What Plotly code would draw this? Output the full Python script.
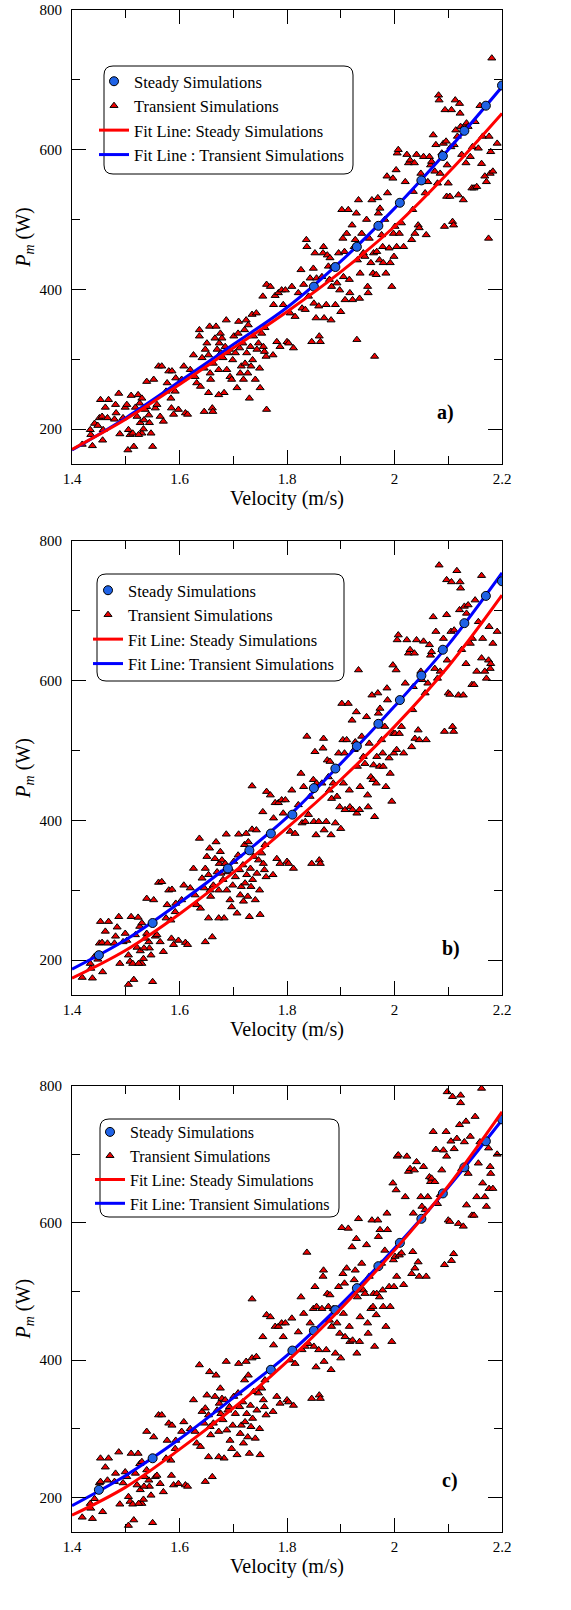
import plotly.graph_objects as go

FONT = "Liberation Serif"

# ---------------- data ----------------
fit_x = [1.4, 1.5, 1.6, 1.7, 1.8, 1.9, 2.0, 2.1, 2.2]

# panel a)
a_fit_steady = [171, 214, 264, 316, 368, 425, 490, 567, 652]
a_fit_trans = [170, 216, 268, 321, 374, 440, 516, 600, 690]
a_steady_x = [1.85, 1.89, 1.93, 1.97, 2.01, 2.05, 2.09, 2.13, 2.17, 2.20]
a_steady_y = [404, 432, 461, 491, 524, 556, 591, 627, 663, 692]
a_trans_x = [1.419,1.438,1.434,1.435,1.442,1.448,1.453,1.468,1.457,1.451,1.456,1.462,1.466,1.458,1.487,1.481,1.482,1.479,1.489,1.499,1.495,1.504,1.510,1.502,1.505,1.508,1.513,1.515,1.518,1.521,1.523,1.526,1.530,1.527,1.530,1.533,1.524,1.539,1.539,1.543,1.544,1.547,1.550,1.552,1.536,1.534,1.555,1.558,1.561,1.567,1.564,1.570,1.577,1.580,1.586,1.585,1.589,1.593,1.598,1.604,1.608,1.611,1.615,1.584,1.592,1.575,
             1.620,1.626,1.637,1.637,1.629,1.632,1.639,1.642,1.646,1.648,1.651,1.654,1.656,1.657,1.658,1.661,1.662,1.663,1.666,1.668,1.670,1.673,1.674,1.676,1.677,1.679,1.681,1.683,1.685,1.687,1.688,1.690,1.693,1.694,1.697,1.699,1.701,1.654,1.673,1.646,
             1.704,1.707,1.709,1.710,1.712,1.713,1.715,1.718,1.719,1.721,1.722,1.724,1.725,1.727,1.728,1.730,1.732,1.733,1.735,1.736,1.738,1.741,1.743,1.744,1.747,1.749,1.750,1.753,1.755,1.756,1.758,1.759,1.761,1.762,1.762,1.769,1.774,1.775,1.778,1.781,1.784,1.787,1.790,1.793,1.797,1.800,
             1.803,1.806,1.809,1.812,1.815,1.821,1.826,1.828,1.831,1.834,1.836,1.837,1.840,1.843,1.846,1.849,1.850,1.852,1.854,1.855,1.859,1.860,1.862,1.865,1.867,1.868,1.869,1.873,1.875,1.877,1.879,1.880,1.882,1.883,1.886,1.890,1.893,1.896,1.898,
             1.900,1.902,1.904,1.905,1.907,1.908,1.911,1.914,1.916,1.917,1.921,1.922,1.925,1.927,1.929,1.930,1.931,1.933,1.935,1.936,1.939,1.942,1.945,1.948,1.950,1.951,1.953,1.956,1.958,1.960,1.961,1.963,1.966,1.967,1.969,1.970,1.972,1.973,1.976,1.978,1.979,1.982,1.984,1.986,1.987,1.990,1.992,1.995,1.997,1.998,1.999,
             2.001,2.003,2.004,2.005,2.007,2.009,2.013,2.017,2.020,2.023,2.026,2.029,2.032,2.034,2.035,2.037,2.038,2.041,2.044,2.046,2.049,2.051,2.054,2.057,2.059,2.062,2.065,2.067,2.069,2.072,2.075,2.077,2.080,2.082,2.083,2.085,2.088,2.091,2.093,2.094,2.096,2.097,2.098,2.100,
             2.103,2.105,2.106,2.108,2.110,2.111,2.113,2.114,2.117,2.119,2.121,2.122,2.123,2.125,2.128,2.130,2.133,2.134,2.137,2.141,2.144,2.145,2.148,2.150,2.153,2.156,2.159,2.162,2.164,2.168,2.171,2.175,2.176,2.178,2.179,2.181,2.183,2.191]
a_trans_y = [178,176,199,192,208,205,242,242,184,216,218,231,216,199,251,235,223,214,193,231,216,170,248,235,199,192,194,175,231,218,249,237,244,209,194,200,192,268,232,220,209,194,175,271,228,213,230,235,290,290,218,211,266,283,283,230,221,273,228,271,290,223,221,244,254,254,
             285,306,342,333,275,266,261,302,225,314,323,306,347,280,271,230,225,294,330,347,314,285,323,337,309,330,302,252,318,356,285,309,314,275,271,299,333,252,249,287,
             309,259,337,354,316,280,290,323,271,342,294,356,309,280,349,244,318,290,364,299,333,271,366,314,323,287,259,337,390,318,311,345,304,228,407,404,306,378,391,325,395,318,399,378,399,325,
             323,366,404,316,361,395,428,373,407,371,471,461,390,416,325,430,380,452,359,416,376,333,325,418,452,461,359,378,449,433,414,445,356,404,433,378,409,452,399,
             368,514,473,418,454,385,480,514,414,395,492,385,461,471,509,328,442,528,387,423,480,452,447,500,404,395,473,438,528,423,452,304,421,454,531,509,442,516,478,461,438,500,423,562,538,459,438,404,559,480,447,
             490,571,461,595,600,480,495,461,554,593,581,585,471,514,540,581,480,593,492,488,566,554,590,538,478,554,590,578,583,621,569,607,552,678,671,566,595,609,490,657,612,533,578,552,
             533,604,657,497,492,607,671,628,619,535,666,652,633,593,528,633,581,638,633,590,545,604,545,640,547,602,663,580,619,562,554,473,619,566,597,731,569,609]

# panel b)
b_fit_steady = [174, 214, 266, 325, 389, 458, 534, 620, 722]
b_fit_trans = [187, 229, 282, 340, 404, 481, 563, 651, 754]
b_steady_x = [1.45, 1.55, 1.69, 1.73, 1.77, 1.81, 1.85, 1.89, 1.93, 1.97, 2.01, 2.05, 2.09, 2.13, 2.17, 2.20]
b_steady_y = [207, 253, 331, 357, 381, 408, 446, 474, 506, 538, 572, 607, 644, 682, 721, 742]
b_trans_x = [1.419,1.438,1.434,1.435,1.442,1.448,1.453,1.468,1.457,1.451,1.456,1.462,1.466,1.487,1.481,1.484,1.479,1.489,1.499,1.495,1.505,1.510,1.502,1.505,1.508,1.513,1.515,1.518,1.521,1.523,1.526,1.530,1.527,1.530,1.533,1.524,1.539,1.539,1.543,1.544,1.547,1.550,1.552,1.536,1.534,1.555,1.558,1.561,1.567,1.564,1.570,1.577,1.580,1.586,1.585,1.589,1.593,1.598,1.604,1.608,1.611,1.615,1.584,1.592,1.575,
             1.620,1.626,1.637,1.629,1.632,1.639,1.642,1.648,1.648,1.651,1.654,1.656,1.657,1.658,1.661,1.663,1.666,1.668,1.670,1.673,1.674,1.676,1.677,1.679,1.681,1.683,1.685,1.687,1.688,1.690,1.693,1.694,1.697,1.699,1.701,1.654,1.673,1.646,
             1.704,1.707,1.709,1.710,1.712,1.713,1.715,1.718,1.719,1.721,1.722,1.724,1.725,1.727,1.728,1.730,1.732,1.733,1.735,1.735,1.736,1.738,1.741,1.743,1.744,1.747,1.749,1.750,1.753,1.755,1.756,1.758,1.759,1.761,1.762,1.769,1.774,1.775,1.778,1.781,1.784,1.787,1.790,1.793,1.797,1.800,
             1.803,1.806,1.809,1.812,1.815,1.821,1.826,1.828,1.831,1.834,1.837,1.840,1.843,1.846,1.849,1.850,1.852,1.854,1.855,1.859,1.860,1.862,1.865,1.867,1.868,1.869,1.873,1.875,1.877,1.879,1.880,1.882,1.883,1.886,1.890,1.893,1.896,1.898,
             1.900,1.902,1.904,1.905,1.907,1.908,1.911,1.914,1.916,1.917,1.921,1.922,1.925,1.927,1.929,1.930,1.931,1.933,1.935,1.936,1.939,1.942,1.945,1.948,1.950,1.951,1.953,1.956,1.958,1.960,1.961,1.963,1.966,1.967,1.969,1.970,1.972,1.973,1.976,1.978,1.979,1.982,1.984,1.986,1.987,1.990,1.992,1.995,1.997,1.998,1.999,
             2.001,2.003,2.004,2.005,2.007,2.009,2.013,2.017,2.020,2.023,2.026,2.029,2.032,2.034,2.035,2.037,2.038,2.041,2.044,2.046,2.049,2.051,2.054,2.057,2.059,2.062,2.065,2.067,2.069,2.072,2.075,2.077,2.080,2.083,2.085,2.088,2.091,2.093,2.097,2.098,2.100,2.097,
             2.103,2.105,2.106,2.108,2.110,2.111,2.116,2.119,2.122,2.123,2.121,2.125,2.128,2.130,2.133,2.134,2.137,2.141,2.144,2.145,2.148,2.150,2.153,2.156,2.162,2.162,2.164,2.168,2.171,2.175,2.176,2.178,2.179,2.183,2.191]
b_trans_y = [175,174,195,188,205,201,255,255,183,224,225,241,224,262,234,247,224,195,238,226,165,262,228,207,198,195,172,236,218,261,248,253,213,195,202,195,288,238,226,217,207,169,286,231,217,234,236,311,312,226,212,279,300,301,231,222,281,228,286,307,225,222,257,269,260,
             303,331,374,293,279,274,317,226,331,348,322,360,300,291,233,307,345,369,326,300,338,355,324,343,315,260,338,380,300,326,331,286,276,307,341,260,260,303,
             319,267,350,380,329,293,305,336,284,365,310,381,322,291,369,262,331,305,449,387,315,348,286,386,324,343,300,265,353,412,338,329,365,319,441,436,322,403,425,345,425,338,429,410,429,341,
             338,384,443,331,381,422,467,396,448,398,520,408,434,338,458,398,498,379,453,398,343,338,453,503,517,386,398,486,462,443,484,379,431,453,396,434,496,419,
             388,567,515,453,496,415,515,567,443,419,543,415,501,512,555,410,477,615,415,448,520,491,481,548,436,419,510,462,579,458,479,405,453,491,582,553,477,560,515,496,477,534,448,589,572,489,467,427,622,524,496,
             524,615,501,658,665,524,534,496,596,658,639,644,505,558,591,639,517,658,529,515,613,601,656,582,515,596,651,636,641,691,617,670,603,765,613,644,660,527,694,629,582,744,
             580,670,741,534,527,672,757,579,741,732,701,644,579,706,624,696,708,653,594,660,594,715,613,684,750,632,660,613,603,629,677,617,624,653,670]

# panel c)
c_fit_steady = [174, 215, 270, 330, 398, 475, 560, 654, 762]
c_fit_trans = [188, 232, 285, 345, 407, 481, 563, 652, 750]
c_steady_x = [1.45, 1.55, 1.77, 1.81, 1.85, 1.89, 1.93, 1.97, 2.01, 2.05, 2.09, 2.13, 2.17, 2.20]
c_steady_y = [211, 257, 386, 414, 443, 473, 505, 537, 571, 606, 643, 681, 719, 751]
c_trans_x = [1.419,1.438,1.434,1.435,1.442,1.453,1.468,1.457,1.451,1.462,1.453,1.466,1.487,1.481,1.479,1.489,1.499,1.495,1.505,1.510,1.502,1.505,1.508,1.513,1.515,1.518,1.521,1.523,1.526,1.530,1.527,1.530,1.533,1.524,1.539,1.539,1.543,1.544,1.547,1.550,1.552,1.536,1.534,1.555,1.558,1.561,1.567,1.564,1.570,1.577,1.580,1.586,1.585,1.589,1.593,1.598,1.604,1.608,1.611,1.615,1.584,1.592,1.575,
             1.620,1.626,1.637,1.629,1.632,1.639,1.642,1.648,1.648,1.651,1.654,1.656,1.657,1.658,1.661,1.663,1.666,1.668,1.670,1.673,1.674,1.676,1.677,1.679,1.681,1.683,1.685,1.687,1.688,1.690,1.693,1.694,1.697,1.699,1.701,1.654,1.673,1.646,
             1.704,1.707,1.709,1.710,1.712,1.713,1.715,1.718,1.719,1.721,1.722,1.724,1.725,1.727,1.728,1.730,1.732,1.733,1.735,1.735,1.736,1.738,1.741,1.743,1.744,1.747,1.749,1.750,1.753,1.755,1.756,1.758,1.759,1.761,1.762,1.769,1.774,1.775,1.778,1.781,1.784,1.787,1.790,1.793,1.797,1.800,
             1.803,1.806,1.809,1.812,1.815,1.821,1.826,1.828,1.831,1.834,1.837,1.840,1.843,1.846,1.849,1.850,1.852,1.854,1.855,1.859,1.860,1.862,1.865,1.867,1.868,1.869,1.873,1.875,1.877,1.879,1.880,1.882,1.883,1.886,1.890,1.893,1.896,1.898,
             1.900,1.902,1.904,1.905,1.907,1.908,1.911,1.914,1.916,1.917,1.921,1.922,1.925,1.927,1.929,1.930,1.931,1.933,1.935,1.936,1.939,1.942,1.945,1.948,1.950,1.951,1.953,1.956,1.958,1.960,1.961,1.963,1.966,1.967,1.969,1.970,1.972,1.973,1.976,1.978,1.979,1.982,1.984,1.986,1.987,1.990,1.992,1.995,1.997,1.998,1.999,
             2.001,2.003,2.004,2.005,2.007,2.009,2.013,2.017,2.020,2.023,2.026,2.029,2.032,2.034,2.035,2.037,2.038,2.041,2.044,2.046,2.049,2.051,2.054,2.057,2.059,2.062,2.065,2.067,2.069,2.072,2.075,2.077,2.080,2.085,2.088,2.091,2.093,2.096,2.098,2.100,2.097,
             2.103,2.105,2.108,2.106,2.110,2.111,2.116,2.119,2.123,2.123,2.121,2.125,2.128,2.130,2.133,2.134,2.137,2.141,2.144,2.148,2.150,2.153,2.156,2.159,2.162,2.164,2.168,2.171,2.175,2.176,2.178,2.179,2.183,2.191]
c_trans_y = [171,169,191,184,198,257,257,179,221,244,223,225,266,235,223,190,237,221,159,264,230,201,194,190,167,235,218,264,249,252,211,191,197,191,296,240,225,216,203,163,288,230,216,230,232,320,320,220,208,283,308,305,232,218,283,220,296,310,218,216,254,271,257,
             300,342,393,296,279,274,325,223,330,349,320,383,303,291,230,308,347,378,327,296,337,359,322,344,313,257,342,398,298,327,332,283,271,305,347,259,259,308,
             322,262,352,395,332,293,305,339,279,371,310,398,322,288,378,264,334,303,489,403,315,354,286,405,327,352,300,262,359,434,342,332,371,320,466,463,325,422,449,347,449,337,454,434,454,342,
             339,400,461,334,395,441,492,415,468,420,557,424,454,344,475,420,507,390,478,415,349,344,475,522,531,398,415,497,478,458,495,386,449,475,410,454,507,439,
             403,593,526,468,512,434,534,592,449,427,565,429,517,531,577,410,492,606,427,463,541,502,497,568,454,439,522,475,604,478,497,420,466,497,604,580,492,590,541,502,478,560,449,614,590,507,478,427,658,546,507,
             551,648,522,697,699,553,556,510,638,697,675,679,526,558,614,677,534,689,543,522,638,624,682,619,522,638,667,660,665,733,660,707,628,641,677,706,539,733,791,604,697,
             602,719,784,545,555,708,723,599,786,775,743,679,595,718,748,626,672,726,611,611,755,638,687,718,796,658,638,624,709,650,682,672,650,700]

panel_labels = ["a)", "b)", "c)"]
blue_names = ["Fit Line : Transient Simulations", "Fit Line: Transient Simulations", "Fit Line: Transient Simulations"]

# ---------------- layout helpers (pixel geometry of the page) ----------------
W, H = 571, 1610
ML, MR, MT, MB = 72, 69, 10, 78    # plot-area position on the page
PW, PH = W - ML - MR, H - MT - MB


def px_x(px):
    return (px - ML) / PW


def px_y(py):
    return 1 - (py - MT) / PH


panel_px = [(10, 464), (540.7, 995), (1085.7, 1531.7)]          # top, bottom of each plot area
legend_px = [(94, 64), (88, 573), (90, 1115)]                  # legend top-left
legend_font = [16.5, 16.5, 16]
box_px = [(104, 66, 353, 174), (97, 574, 344, 681), (100, 1119, 339, 1217)]
label_pos = [(2.095, 224), (2.105, 217), (2.104, 225)]

panels = [
    (a_trans_x, a_trans_y, a_steady_x, a_steady_y, a_fit_steady, a_fit_trans),
    (b_trans_x, b_trans_y, b_steady_x, b_steady_y, b_fit_steady, b_fit_trans),
    (c_trans_x, c_trans_y, c_steady_x, c_steady_y, c_fit_steady, c_fit_trans),
]

fig = go.Figure()
layout = dict(
    width=W, height=H,
    margin=dict(l=ML, r=MR, t=MT, b=MB, autoexpand=False),
    paper_bgcolor="white", plot_bgcolor="white",
    font=dict(family=FONT, color="black"),
    showlegend=True,
)
shapes = []
annotations = []

for k, (tx, ty, sx, sy, fs, ft) in enumerate(panels):
    sfx = "" if k == 0 else str(k + 1)
    xa, ya, lg = "x" + sfx, "y" + sfx, "legend" + sfx
    n = min(len(tx), len(ty))
    fig.add_trace(go.Scatter(
        x=tx[:n], y=ty[:n], mode="markers", name="Transient Simulations",
        marker=dict(symbol="triangle-up", size=7, color="#ee0000", line=dict(color="black", width=1)),
        xaxis=xa, yaxis=ya, legend=lg, legendrank=2, hoverinfo="skip"))
    fig.add_trace(go.Scatter(
        x=fit_x, y=ft, mode="lines", name=blue_names[k],
        line=dict(color="#0000ff", width=3, shape="spline"),
        xaxis=xa, yaxis=ya, legend=lg, legendrank=4, hoverinfo="skip"))
    fig.add_trace(go.Scatter(
        x=sx, y=sy, mode="markers", name="Steady Simulations",
        marker=dict(symbol="circle", size=9, color="#1f63e6", line=dict(color="black", width=1)),
        xaxis=xa, yaxis=ya, legend=lg, legendrank=1, hoverinfo="skip"))
    fig.add_trace(go.Scatter(
        x=fit_x, y=fs, mode="lines", name="Fit Line: Steady Simulations",
        line=dict(color="#ff0000", width=3, shape="spline"),
        xaxis=xa, yaxis=ya, legend=lg, legendrank=3, hoverinfo="skip"))

    top, bot = panel_px[k]
    common = dict(showline=True, linecolor="black", linewidth=1, mirror="allticks",
                  ticks="inside", tickwidth=1, tickcolor="black", ticklen=14,
                  showgrid=False, zeroline=False,
                  tickfont=dict(family=FONT, size=15, color="black"))
    layout["xaxis" + sfx] = dict(
        common, domain=[0, 1], anchor=ya, range=[1.4, 2.2], tick0=1.4, dtick=0.2,
        ticklabelstandoff=1,
        minor=dict(ticks="inside", ticklen=8, dtick=0.1, tickcolor="black", tickwidth=1, showgrid=False),
        title=dict(text="Velocity (m/s)", font=dict(family=FONT, size=20, color="black"), standoff=4))
    layout["yaxis" + sfx] = dict(
        common, domain=[px_y(bot), px_y(top)], anchor=xa, range=[150, 800], tick0=0, dtick=200,
        ticklabelstandoff=6,
        minor=dict(ticks="inside", ticklen=8, dtick=100, tick0=0, tickcolor="black", tickwidth=1, showgrid=False),
        title=dict(text="<i>P</i><sub><i>m</i></sub> (W)", font=dict(family=FONT, size=20, color="black"), standoff=3))
    lx, ly = legend_px[k]
    layout["legend" + sfx] = dict(
        x=px_x(lx), y=px_y(ly), xanchor="left", yanchor="top",
        bgcolor="rgba(0,0,0,0)", borderwidth=0, traceorder="normal",
        font=dict(family=FONT, size=legend_font[k], color="black"))

    # rounded legend frame
    bx0, by0, bx1, by1 = box_px[k]
    r = 9
    x0, x1 = px_x(bx0), px_x(bx1)
    y0, y1 = px_y(by1), px_y(by0)
    rx, ry = r / PW, r / PH
    path = (f"M {x0+rx},{y0} L {x1-rx},{y0} Q {x1},{y0} {x1},{y0+ry} "
            f"L {x1},{y1-ry} Q {x1},{y1} {x1-rx},{y1} L {x0+rx},{y1} "
            f"Q {x0},{y1} {x0},{y1-ry} L {x0},{y0+ry} Q {x0},{y0} {x0+rx},{y0} Z")
    shapes.append(dict(type="path", path=path, xref="paper", yref="paper",
                       line=dict(color="black", width=1), fillcolor="white", layer="below"))

    annotations.append(dict(x=label_pos[k][0], y=label_pos[k][1], xref=xa, yref=ya,
                            text="<b>" + panel_labels[k] + "</b>", showarrow=False,
                            font=dict(family=FONT, size=20, color="black")))

layout["shapes"] = shapes
layout["annotations"] = annotations
fig.update_layout(**layout)
fig.write_html("out.html",
               config={"displayModeBar": False},
               post_script="document.body.style.margin='0';document.body.style.overflow='hidden';")
